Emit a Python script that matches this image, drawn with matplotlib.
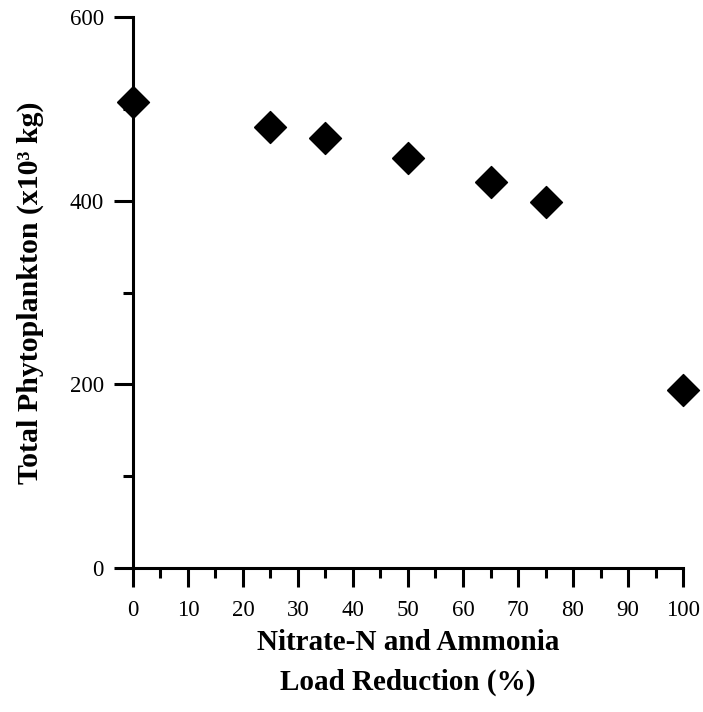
import matplotlib.pyplot as plt
from matplotlib.ticker import MultipleLocator

plt.rcParams['font.family'] = ['Liberation Serif', 'DejaVu Serif']

reduction = [0, 25, 35, 50, 65, 75, 100]
phyto = [507, 480, 468, 447, 420, 399, 194]

x_ticks = list(range(0, 101, 10))
y_ticks = [0, 200, 400, 600]

diamond = [(-1, 0), (0, -1), (1, 0), (0, 1), (-1, 0)]

fig = plt.figure(figsize=(7.03, 7.12), dpi=100)
ax = fig.add_axes([0.189, 0.2022, 0.7827, 0.7738])

ax.plot(reduction, phyto, linestyle='none', marker=diamond, markersize=23,
        color='black', clip_on=False, zorder=5)

ax.set_xlim(0, 100)
ax.set_ylim(0, 600)
ax.set_xticks(x_ticks)
ax.set_yticks(y_ticks)
ax.xaxis.set_minor_locator(MultipleLocator(5))
ax.yaxis.set_minor_locator(MultipleLocator(100))

ax.spines['top'].set_visible(False)
ax.spines['right'].set_visible(False)
for s in ['left', 'bottom']:
    ax.spines[s].set_linewidth(2.2)

ax.tick_params(which='major', direction='out', length=14, width=2.2,
               labelsize=16.5)
ax.tick_params(axis='x', which='major', pad=9)
ax.tick_params(axis='y', which='major', pad=7)
ax.tick_params(which='minor', direction='out', length=7, width=2.2)

ax.set_xlabel("Nitrate-N and Ammonia\nLoad Reduction (%)", fontsize=21,
              fontweight='bold', labelpad=6, linespacing=1.6)
ax.set_ylabel("Total Phytoplankton (x10³ kg)", fontsize=21.5,
              fontweight='bold', labelpad=18)

fig.savefig("out.png", dpi=100)
